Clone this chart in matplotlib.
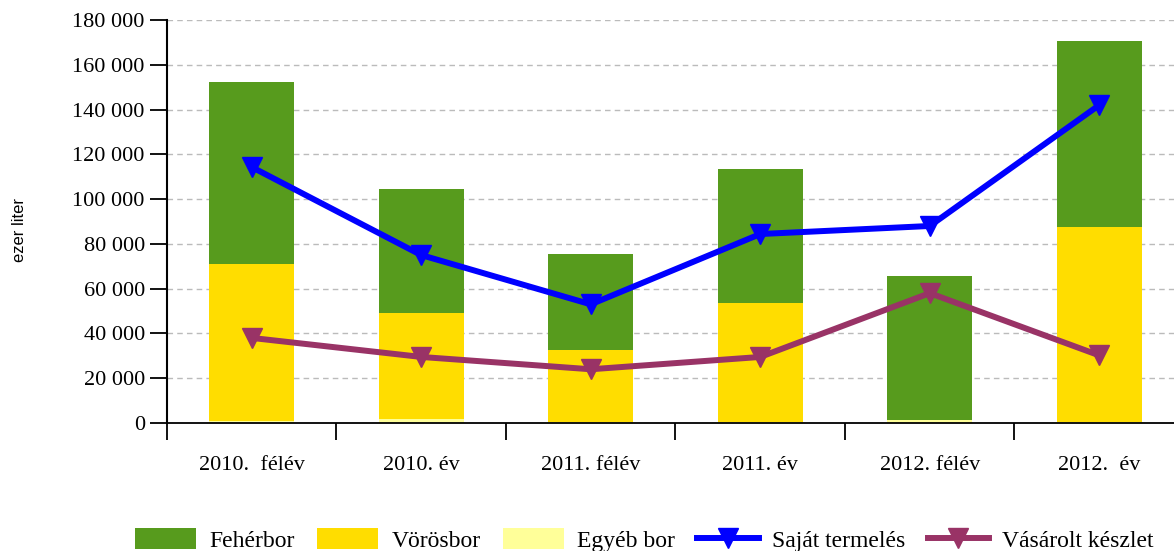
"""Borkészlet: stacked bars (fehér / vörös / egyéb) plus two line series."""
import matplotlib

matplotlib.use("Agg")
import matplotlib.pyplot as plt
import numpy as np
from matplotlib.ticker import FuncFormatter

categories = ["2010.  félév", "2010. év", "2011. félév", "2011. év", "2012. félév", "2012.  év"]
egyeb_bor = [1100, 1800, 600, 600, 1500, 600]
voros_bor = [70000, 47500, 32000, 53000, 0, 87000]
feher_bor = [81300, 55200, 43000, 59800, 64200, 83000]
sajat_termeles = [114300, 75000, 53000, 84400, 88000, 142000]
vasarolt_keszlet = [38000, 29500, 24000, 29500, 58000, 30200]

GREEN = "#579B1D"
YELLOW = "#FFDD00"
PALE = "#FFFF99"
BLUE = "#0000FF"
PURPLE = "#993366"

plt.rcParams["font.family"] = ["Liberation Serif", "DejaVu Serif"]

fig = plt.figure(figsize=(11.74, 5.51), dpi=100)
ax = fig.add_axes([167 / 1174, 1 - 423 / 551, (1184 - 167) / 1174, (423 - 20) / 551])

x = np.arange(len(categories))
w = 0.5
egyeb = np.array(egyeb_bor)
voros = np.array(voros_bor)
feher = np.array(feher_bor)
b_egyeb = ax.bar(x, egyeb, w, color=PALE, label="Egyéb bor", zorder=2)
b_voros = ax.bar(x, voros, w, bottom=egyeb, color=YELLOW, label="Vörösbor", zorder=2)
b_feher = ax.bar(x, feher, w, bottom=egyeb + voros, color=GREEN, label="Fehérbor", zorder=2)

(l_sajat,) = ax.plot(x, sajat_termeles, color=BLUE, lw=4.3, marker="v", ms=15,
                     label="Saját termelés", zorder=3)
(l_vas,) = ax.plot(x, vasarolt_keszlet, color=PURPLE, lw=4.3, marker="v", ms=15,
                   label="Vásárolt készlet", zorder=3)

ax.set_xlim(-0.5, 5.5)
ax.set_ylim(0, 180000)
ax.set_yticks(np.arange(0, 180001, 20000))
ax.yaxis.set_major_formatter(FuncFormatter(lambda v, _: f"{int(v):,}".replace(",", " ")))
ax.set_xticks(x, categories)
ax.set_xticks(np.arange(-0.5, 6, 1), minor=True)
ax.tick_params(axis="x", which="major", length=0, pad=24, labelsize=16)
ax.tick_params(axis="x", which="minor", length=12, width=1.3, direction="out")
ax.tick_params(axis="y", length=12, width=1.3, direction="out", labelsize=16, pad=4)

ax.grid(axis="y", color="#BBBBBB", linestyle=(0, (4, 3)), lw=1, zorder=0)
for s in ("top", "right"):
    ax.spines[s].set_visible(False)
ax.spines["left"].set_linewidth(1.5)
ax.spines["bottom"].set_linewidth(1.3)

fig.text(20 / 1174, 1 - 230 / 551, "ezer liter", rotation=90, va="center", ha="center",
         fontsize=12, family="Liberation Sans")

fig.legend([b_feher, b_voros, b_egyeb, l_sajat, l_vas],
           ["Fehérbor", "Vörösbor", "Egyéb bor", "Saját termelés", "Vásárolt készlet"],
           ncol=5, loc="center", bbox_to_anchor=(0.5486, 1 - 540 / 551), frameon=False,
           fontsize=17, handlelength=2.6, handleheight=1.0, handletextpad=0.55,
           columnspacing=0.95)

fig.savefig("out.png", dpi=100)
